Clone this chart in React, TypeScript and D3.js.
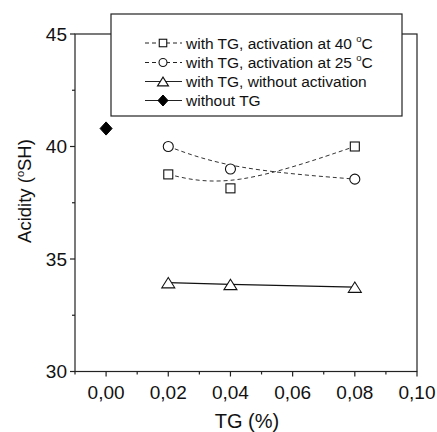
import React from "react";
import * as d3 from "d3";

const tgLevels = [0.02, 0.04, 0.08];
const act40 = [38.76, 38.14, 40.0];
const act25 = [40.0, 39.0, 38.55];
const noAct = [33.95, 33.87, 33.75];
const withoutTG = [{ x: 0.0, y: 40.8 }];
const xTicks = [0, 0.02, 0.04, 0.06, 0.08, 0.1];
const xMinor = [-0.01, 0.01, 0.03, 0.05, 0.07, 0.09];
const yTicks = [30, 35, 40, 45];
const yMinor = [32.5, 37.5, 42.5];

const FONT = "'Liberation Sans', Arial, sans-serif";

export default function App() {
  const W = 437, H = 432;
  const x = d3.scaleLinear().domain([-0.01, 0.1]).range([75, 417]);
  const y = d3.scaleLinear().domain([30, 45]).range([371.5, 34]);
  const fmt = (v: number) => v.toFixed(2).replace(".", ",");

  const toPts = (vals: number[]) => tgLevels.map((t, i) => [x(t), y(vals[i])] as [number, number]);
  const spline = d3.line().curve(d3.curveBasis);
  const straight = d3.line();

  const sq = (cx: number, cy: number, s: number, k: string) => (
    <rect key={k} x={cx - s / 2} y={cy - s / 2} width={s} height={s} fill="white" stroke="#111" strokeWidth={1.1} />
  );
  const circ = (cx: number, cy: number, r: number, k: string) => (
    <circle key={k} cx={cx} cy={cy} r={r} fill="white" stroke="#111" strokeWidth={1.1} />
  );
  const tri = (cx: number, cy: number, w: number, k: string) => {
    const h = w * 0.8;
    return (
      <path key={k} d={`M${cx - w / 2},${cy + h / 2}L${cx + w / 2},${cy + h / 2}L${cx},${cy - h / 2}Z`} fill="white" stroke="#111" strokeWidth={1.1} />
    );
  };
  const dia = (cx: number, cy: number, w: number, k: string) => {
    const h = w * 1.1;
    return (
      <path key={k} d={`M${cx},${cy - h / 2}L${cx + w / 2},${cy}L${cx},${cy + h / 2}L${cx - w / 2},${cy}Z`} fill="black" stroke="black" />
    );
  };

  const legendRows = [
    { label: "with TG, activation at 40 ", deg: true, dashed: true, m: "sq" },
    { label: "with TG, activation at 25 ", deg: true, dashed: true, m: "ci" },
    { label: "with TG, without activation", deg: false, dashed: false, m: "tr" },
    { label: "without TG", deg: false, dashed: false, m: "di" },
  ];
  const rowY = [43, 62.5, 81.5, 100.5];

  return (
    <svg width={W} height={H} style={{ position: "absolute", left: 0, top: 0, background: "white" }} fontFamily={FONT}>
      <rect x={0} y={0} width={W} height={H} fill="white" />
      <rect x={x(-0.01)} y={y(45)} width={x(0.1) - x(-0.01)} height={y(30) - y(45)} fill="none" stroke="#222" strokeWidth={1.2} />
      {yTicks.map((t) => (
        <g key={"yt" + t}>
          <line x1={70} x2={75} y1={y(t)} y2={y(t)} stroke="#222" strokeWidth={1.2} />
          <text x={67} y={y(t) + 6.5} textAnchor="end" fontSize={19} fill="#111">{t}</text>
        </g>
      ))}
      {yMinor.map((t) => (
        <line key={"ym" + t} x1={72} x2={75} y1={y(t)} y2={y(t)} stroke="#222" strokeWidth={1.2} />
      ))}
      {xTicks.map((t) => (
        <g key={"xt" + t}>
          <line x1={x(t)} x2={x(t)} y1={y(30)} y2={y(30) + 5} stroke="#222" strokeWidth={1.2} />
          <text x={x(t)} y={399} textAnchor="middle" fontSize={19} fill="#111">{fmt(t)}</text>
        </g>
      ))}
      {xMinor.map((t) => (
        <line key={"xm" + t} x1={x(t)} x2={x(t)} y1={y(30)} y2={y(30) + 3} stroke="#222" strokeWidth={1.2} />
      ))}
      <text x={247} y={428} textAnchor="middle" fontSize={20} fill="#111">TG (%)</text>
      <text transform={`translate(31,${191}) rotate(-90)`} textAnchor="middle" fontSize={18.5} fill="#111">
        Acidity (<tspan dy={-7} fontSize={11}>o</tspan><tspan dy={7}>SH)</tspan>
      </text>
      <path d={spline(toPts(act40)) || ""} fill="none" stroke="#333" strokeWidth={1} strokeDasharray="4,3" />
      <path d={spline(toPts(act25)) || ""} fill="none" stroke="#333" strokeWidth={1} strokeDasharray="4,3" />
      <path d={straight(toPts(noAct)) || ""} fill="none" stroke="#111" strokeWidth={1.2} />
      {toPts(act40).map((p, i) => sq(p[0], p[1], 9, "s" + i))}
      {toPts(act25).map((p, i) => circ(p[0], p[1], 5, "c" + i))}
      {toPts(noAct).map((p, i) => tri(p[0], p[1], 13, "t" + i))}
      {withoutTG.map((d, i) => dia(x(d.x), y(d.y), 12, "d" + i))}
      <rect x={111} y={14} width={291} height={102} fill="white" stroke="#222" strokeWidth={1.2} />
      {legendRows.map((r, i) => {
        const cy = rowY[i];
        const marker =
          r.m === "sq" ? sq(163, cy, 7.5, "ls") :
          r.m === "ci" ? circ(163, cy, 4, "lc") :
          r.m === "tr" ? tri(163, cy, 11, "lt") :
          dia(163, cy, 10, "ld");
        return (
          <g key={"lg" + i}>
            <line x1={145} x2={182} y1={cy} y2={cy} stroke="#222" strokeWidth={r.dashed ? 1 : 1.2} strokeDasharray={r.dashed ? "4,3" : undefined} />
            {marker}
            <text x={186} y={cy + 5.5} fontSize={15.5} fill="#111">
              {r.label}
              {r.deg ? (<><tspan dy={-7} fontSize={9.5}>o</tspan><tspan dy={7}>C</tspan></>) : null}
            </text>
          </g>
        );
      })}
    </svg>
  );
}
